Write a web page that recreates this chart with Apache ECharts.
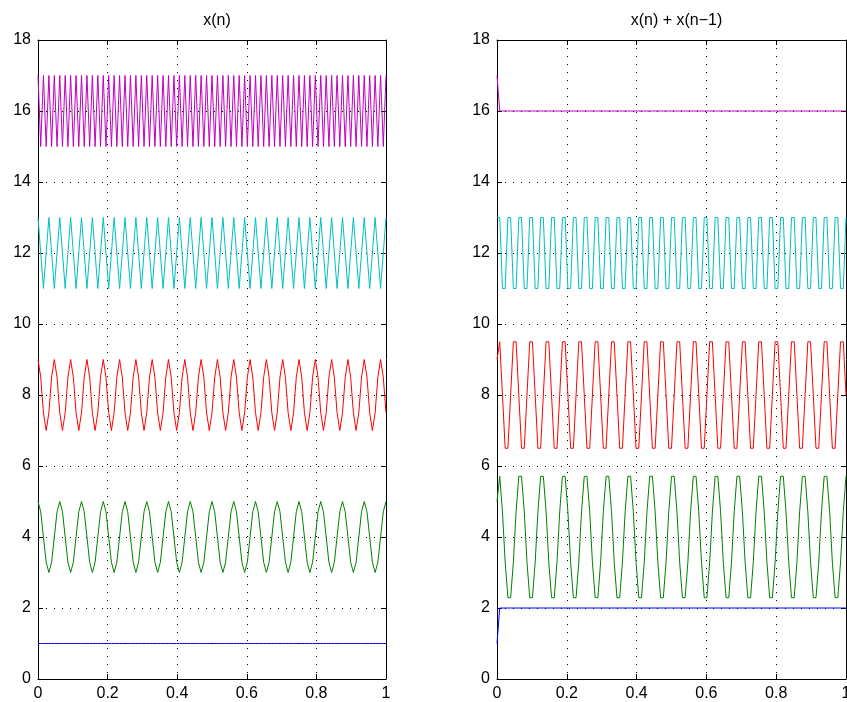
<!DOCTYPE html>
<html>
<head>
<meta charset="utf-8">
<script src="https://cdn.jsdelivr.net/npm/echarts/dist/echarts.min.js"></script>
<style>
  html, body { margin: 0; padding: 0; background: #fff; }
  #chart { width: 847px; height: 702px; }
</style>
</head>
<body>
<div id="chart"></div>
<script>
// samples n = 0..128, plotted against t = n / 128
const sampleRate = 128

// left panel: x(n)
const leftBlue = [
  1, 1, 1, 1, 1, 1, 1, 1, 1, 1, 1, 1, 1, 1, 1, 1,
  1, 1, 1, 1, 1, 1, 1, 1, 1, 1, 1, 1, 1, 1, 1, 1,
  1, 1, 1, 1, 1, 1, 1, 1, 1, 1, 1, 1, 1, 1, 1, 1,
  1, 1, 1, 1, 1, 1, 1, 1, 1, 1, 1, 1, 1, 1, 1, 1,
  1, 1, 1, 1, 1, 1, 1, 1, 1, 1, 1, 1, 1, 1, 1, 1,
  1, 1, 1, 1, 1, 1, 1, 1, 1, 1, 1, 1, 1, 1, 1, 1,
  1, 1, 1, 1, 1, 1, 1, 1, 1, 1, 1, 1, 1, 1, 1, 1,
  1, 1, 1, 1, 1, 1, 1, 1, 1, 1, 1, 1, 1, 1, 1, 1,
  1
]
const leftGreen = [
  5, 4.71, 4, 3.29, 3, 3.29, 4, 4.71,
  5, 4.71, 4, 3.29, 3, 3.29, 4, 4.71,
  5, 4.71, 4, 3.29, 3, 3.29, 4, 4.71,
  5, 4.71, 4, 3.29, 3, 3.29, 4, 4.71,
  5, 4.71, 4, 3.29, 3, 3.29, 4, 4.71,
  5, 4.71, 4, 3.29, 3, 3.29, 4, 4.71,
  5, 4.71, 4, 3.29, 3, 3.29, 4, 4.71,
  5, 4.71, 4, 3.29, 3, 3.29, 4, 4.71,
  5, 4.71, 4, 3.29, 3, 3.29, 4, 4.71,
  5, 4.71, 4, 3.29, 3, 3.29, 4, 4.71,
  5, 4.71, 4, 3.29, 3, 3.29, 4, 4.71,
  5, 4.71, 4, 3.29, 3, 3.29, 4, 4.71,
  5, 4.71, 4, 3.29, 3, 3.29, 4, 4.71,
  5, 4.71, 4, 3.29, 3, 3.29, 4, 4.71,
  5, 4.71, 4, 3.29, 3, 3.29, 4, 4.71,
  5, 4.71, 4, 3.29, 3, 3.29, 4, 4.71,
  5
]
const leftRed = [
  9, 8.5, 7.5, 7, 7.5, 8.5, 9, 8.5, 7.5, 7, 7.5, 8.5, 9, 8.5, 7.5, 7, 7.5, 8.5,
  9, 8.5, 7.5, 7, 7.5, 8.5, 9, 8.5, 7.5, 7, 7.5, 8.5, 9, 8.5, 7.5, 7, 7.5, 8.5,
  9, 8.5, 7.5, 7, 7.5, 8.5, 9, 8.5, 7.5, 7, 7.5, 8.5, 9, 8.5, 7.5, 7, 7.5, 8.5,
  9, 8.5, 7.5, 7, 7.5, 8.5, 9, 8.5, 7.5, 7, 7.5, 8.5, 9, 8.5, 7.5, 7, 7.5, 8.5,
  9, 8.5, 7.5, 7, 7.5, 8.5, 9, 8.5, 7.5, 7, 7.5, 8.5, 9, 8.5, 7.5, 7, 7.5, 8.5,
  9, 8.5, 7.5, 7, 7.5, 8.5, 9, 8.5, 7.5, 7, 7.5, 8.5, 9, 8.5, 7.5, 7, 7.5, 8.5,
  9, 8.5, 7.5, 7, 7.5, 8.5, 9, 8.5, 7.5, 7, 7.5, 8.5, 9, 8.5, 7.5, 7, 7.5, 8.5,
  9, 8.5, 7.5
]
const leftCyan = [
  13, 12, 11, 12, 13, 12, 11, 12, 13, 12, 11, 12, 13, 12, 11, 12,
  13, 12, 11, 12, 13, 12, 11, 12, 13, 12, 11, 12, 13, 12, 11, 12,
  13, 12, 11, 12, 13, 12, 11, 12, 13, 12, 11, 12, 13, 12, 11, 12,
  13, 12, 11, 12, 13, 12, 11, 12, 13, 12, 11, 12, 13, 12, 11, 12,
  13, 12, 11, 12, 13, 12, 11, 12, 13, 12, 11, 12, 13, 12, 11, 12,
  13, 12, 11, 12, 13, 12, 11, 12, 13, 12, 11, 12, 13, 12, 11, 12,
  13, 12, 11, 12, 13, 12, 11, 12, 13, 12, 11, 12, 13, 12, 11, 12,
  13, 12, 11, 12, 13, 12, 11, 12, 13, 12, 11, 12, 13, 12, 11, 12,
  13
]
const leftMagenta = [
  17, 15, 17, 15, 17, 15, 17, 15, 17, 15, 17, 15, 17, 15, 17, 15,
  17, 15, 17, 15, 17, 15, 17, 15, 17, 15, 17, 15, 17, 15, 17, 15,
  17, 15, 17, 15, 17, 15, 17, 15, 17, 15, 17, 15, 17, 15, 17, 15,
  17, 15, 17, 15, 17, 15, 17, 15, 17, 15, 17, 15, 17, 15, 17, 15,
  17, 15, 17, 15, 17, 15, 17, 15, 17, 15, 17, 15, 17, 15, 17, 15,
  17, 15, 17, 15, 17, 15, 17, 15, 17, 15, 17, 15, 17, 15, 17, 15,
  17, 15, 17, 15, 17, 15, 17, 15, 17, 15, 17, 15, 17, 15, 17, 15,
  17, 15, 17, 15, 17, 15, 17, 15, 17, 15, 17, 15, 17, 15, 17, 15,
  17
]

// right panel: x(n) + x(n-1)
const rightBlue = [
  1,
  2, 2, 2, 2, 2, 2, 2, 2, 2, 2, 2, 2, 2, 2, 2, 2,
  2, 2, 2, 2, 2, 2, 2, 2, 2, 2, 2, 2, 2, 2, 2, 2,
  2, 2, 2, 2, 2, 2, 2, 2, 2, 2, 2, 2, 2, 2, 2, 2,
  2, 2, 2, 2, 2, 2, 2, 2, 2, 2, 2, 2, 2, 2, 2, 2,
  2, 2, 2, 2, 2, 2, 2, 2, 2, 2, 2, 2, 2, 2, 2, 2,
  2, 2, 2, 2, 2, 2, 2, 2, 2, 2, 2, 2, 2, 2, 2, 2,
  2, 2, 2, 2, 2, 2, 2, 2, 2, 2, 2, 2, 2, 2, 2, 2,
  2, 2, 2, 2, 2, 2, 2, 2, 2, 2, 2, 2, 2, 2, 2, 2
]
const rightGreen = [
  5,
  5.71, 4.71, 3.29, 2.29, 2.29, 3.29, 4.71, 5.71,
  5.71, 4.71, 3.29, 2.29, 2.29, 3.29, 4.71, 5.71,
  5.71, 4.71, 3.29, 2.29, 2.29, 3.29, 4.71, 5.71,
  5.71, 4.71, 3.29, 2.29, 2.29, 3.29, 4.71, 5.71,
  5.71, 4.71, 3.29, 2.29, 2.29, 3.29, 4.71, 5.71,
  5.71, 4.71, 3.29, 2.29, 2.29, 3.29, 4.71, 5.71,
  5.71, 4.71, 3.29, 2.29, 2.29, 3.29, 4.71, 5.71,
  5.71, 4.71, 3.29, 2.29, 2.29, 3.29, 4.71, 5.71,
  5.71, 4.71, 3.29, 2.29, 2.29, 3.29, 4.71, 5.71,
  5.71, 4.71, 3.29, 2.29, 2.29, 3.29, 4.71, 5.71,
  5.71, 4.71, 3.29, 2.29, 2.29, 3.29, 4.71, 5.71,
  5.71, 4.71, 3.29, 2.29, 2.29, 3.29, 4.71, 5.71,
  5.71, 4.71, 3.29, 2.29, 2.29, 3.29, 4.71, 5.71,
  5.71, 4.71, 3.29, 2.29, 2.29, 3.29, 4.71, 5.71,
  5.71, 4.71, 3.29, 2.29, 2.29, 3.29, 4.71, 5.71,
  5.71, 4.71, 3.29, 2.29, 2.29, 3.29, 4.71, 5.71
]
const rightRed = [
  9,
  9.5, 8, 6.5, 6.5, 8, 9.5, 9.5, 8, 6.5, 6.5, 8, 9.5, 9.5, 8, 6.5, 6.5, 8, 9.5,
  9.5, 8, 6.5, 6.5, 8, 9.5, 9.5, 8, 6.5, 6.5, 8, 9.5, 9.5, 8, 6.5, 6.5, 8, 9.5,
  9.5, 8, 6.5, 6.5, 8, 9.5, 9.5, 8, 6.5, 6.5, 8, 9.5, 9.5, 8, 6.5, 6.5, 8, 9.5,
  9.5, 8, 6.5, 6.5, 8, 9.5, 9.5, 8, 6.5, 6.5, 8, 9.5, 9.5, 8, 6.5, 6.5, 8, 9.5,
  9.5, 8, 6.5, 6.5, 8, 9.5, 9.5, 8, 6.5, 6.5, 8, 9.5, 9.5, 8, 6.5, 6.5, 8, 9.5,
  9.5, 8, 6.5, 6.5, 8, 9.5, 9.5, 8, 6.5, 6.5, 8, 9.5, 9.5, 8, 6.5, 6.5, 8, 9.5,
  9.5, 8, 6.5, 6.5, 8, 9.5, 9.5, 8, 6.5, 6.5, 8, 9.5, 9.5, 8, 6.5, 6.5, 8, 9.5,
  9.5, 8
]
const rightCyan = [
  13,
  13, 11, 11, 13, 13, 11, 11, 13, 13, 11, 11, 13, 13, 11, 11, 13,
  13, 11, 11, 13, 13, 11, 11, 13, 13, 11, 11, 13, 13, 11, 11, 13,
  13, 11, 11, 13, 13, 11, 11, 13, 13, 11, 11, 13, 13, 11, 11, 13,
  13, 11, 11, 13, 13, 11, 11, 13, 13, 11, 11, 13, 13, 11, 11, 13,
  13, 11, 11, 13, 13, 11, 11, 13, 13, 11, 11, 13, 13, 11, 11, 13,
  13, 11, 11, 13, 13, 11, 11, 13, 13, 11, 11, 13, 13, 11, 11, 13,
  13, 11, 11, 13, 13, 11, 11, 13, 13, 11, 11, 13, 13, 11, 11, 13,
  13, 11, 11, 13, 13, 11, 11, 13, 13, 11, 11, 13, 13, 11, 11, 13
]
const rightMagenta = [
  17,
  16, 16, 16, 16, 16, 16, 16, 16, 16, 16, 16, 16, 16, 16, 16, 16,
  16, 16, 16, 16, 16, 16, 16, 16, 16, 16, 16, 16, 16, 16, 16, 16,
  16, 16, 16, 16, 16, 16, 16, 16, 16, 16, 16, 16, 16, 16, 16, 16,
  16, 16, 16, 16, 16, 16, 16, 16, 16, 16, 16, 16, 16, 16, 16, 16,
  16, 16, 16, 16, 16, 16, 16, 16, 16, 16, 16, 16, 16, 16, 16, 16,
  16, 16, 16, 16, 16, 16, 16, 16, 16, 16, 16, 16, 16, 16, 16, 16,
  16, 16, 16, 16, 16, 16, 16, 16, 16, 16, 16, 16, 16, 16, 16, 16,
  16, 16, 16, 16, 16, 16, 16, 16, 16, 16, 16, 16, 16, 16, 16, 16
]

const titles = ['x(n)', 'x(n) + x(n\u22121)']
const colors = ['#0000ff', '#008000', '#ff0000', '#00bfbf', '#bf00bf']
const panels = [
  [leftBlue, leftGreen, leftRed, leftCyan, leftMagenta],
  [rightBlue, rightGreen, rightRed, rightCyan, rightMagenta]
]

const font = '"Liberation Sans", Arial, Helvetica, sans-serif'

function toPoints(values) {
  return values.map((v, n) => [n / sampleRate, v])
}

// outerBoundsMode 'none' keeps the right panel running to the page edge (its "1" gets clipped, as in the original)
const grids = [
  { left: 38, top: 40, width: 348, height: 639, outerBoundsMode: 'none' },
  { left: 497, top: 40, width: 349, height: 639, outerBoundsMode: 'none' }
]

const axisLine = { show: true, onZero: false, lineStyle: { color: '#000', width: 1 } }
const axisTick = { show: true, inside: true, length: 5, lineStyle: { color: '#000' } }
const dots = { show: true, lineStyle: { color: '#000', width: 1, type: [1, 7] } }
const tickLabel = { color: '#000', fontFamily: font, fontSize: 16 }

const xAxis = []
const yAxis = []
grids.forEach((g, i) => {
  const xBase = { type: 'value', gridIndex: i, min: 0, max: 1, interval: 0.2, axisLine, axisTick }
  const yBase = { type: 'value', gridIndex: i, min: 0, max: 18, interval: 2, axisLine, axisTick }
  xAxis.push({ ...xBase, position: 'bottom', splitLine: dots, axisLabel: { ...tickLabel, margin: 7 } })
  xAxis.push({ ...xBase, position: 'top', splitLine: { show: false }, axisLabel: { show: false } })
  yAxis.push({ ...yBase, position: 'left', splitLine: dots, axisLabel: { ...tickLabel, margin: 7 } })
  yAxis.push({ ...yBase, position: 'right', splitLine: { show: false }, axisLabel: { show: false } })
})

const series = []
panels.forEach((lines, i) => {
  lines.forEach((values, k) => {
    series.push({
      type: 'line',
      xAxisIndex: i * 2,
      yAxisIndex: i * 2,
      data: toPoints(values),
      showSymbol: false,
      symbol: 'none',
      lineStyle: { color: colors[k], width: 1 },
      itemStyle: { color: colors[k] },
      z: 3
    })
  })
})

const chart = echarts.init(document.getElementById('chart'))
chart.setOption({
  backgroundColor: '#fff',
  animation: false,
  title: titles.map((text, i) => ({
    text,
    left: grids[i].left + grids[i].width / 2,
    top: 8,
    textAlign: 'center',
    textStyle: { color: '#000', fontFamily: font, fontSize: 16, fontWeight: 'normal' }
  })),
  grid: grids,
  xAxis,
  yAxis,
  series
})
</script>
</body>
</html>
